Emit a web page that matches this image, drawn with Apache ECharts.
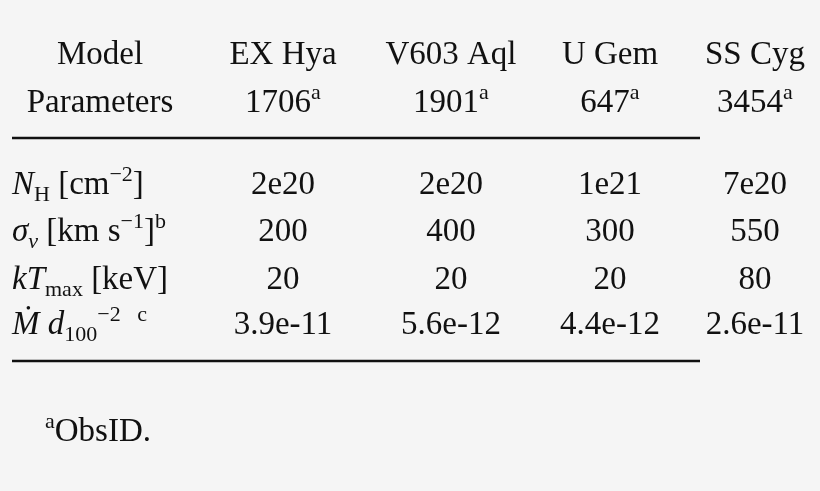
<!DOCTYPE html>
<html>
<head>
<meta charset="utf-8">
<script src="https://cdn.jsdelivr.net/npm/echarts@6/dist/echarts.min.js"></script>
<style>
  html, body { margin: 0; padding: 0; background: #f5f5f5; }
  #chart { width: 820px; height: 491px; }
</style>
</head>
<body>
<div id="chart"></div>
<script>
// table contents
const headerTop = ["Model", "EX Hya", "V603 Aql", "U Gem", "SS Cyg"];
const obsIds = ["1706", "1901", "647", "3454"];
const rowLabels = [
  "{it|N}{sub|H} [cm{sup|−2}]",
  "{it|σ}{subit|v} [km s{sup|−1}]{sup|b}",
  "{it|kT}{sub|max} [keV]",
  "{it|M\u0307 d}{sub|100}{sup|−2}  {sup|c}"
];
const nH = ["2e20", "2e20", "1e21", "7e20"];
const sigmaV = ["200", "400", "300", "550"];
const kTmax = ["20", "20", "20", "80"];
const mdot = ["3.9e-11", "5.6e-12", "4.4e-12", "2.6e-11"];
const footnote = "{sup|a}ObsID.";

const font = "'Liberation Serif', 'DejaVu Serif', serif";
const colX = [100, 283, 451, 610, 755];
const rowY = [185, 232, 280, 325];
const rich = {
  it: { fontFamily: font, fontSize: 33, fontStyle: 'italic', color: '#111' },
  sub: { fontFamily: font, fontSize: 22, color: '#111', verticalAlign: 'bottom', lineHeight: 42 },
  subit: { fontFamily: font, fontSize: 22, fontStyle: 'italic', color: '#111', verticalAlign: 'bottom', lineHeight: 42 },
  sup: { fontFamily: font, fontSize: 22, color: '#111', verticalAlign: 'top', lineHeight: 42 }
};

function txt(x, y, text, align) {
  return {
    type: 'text', x: x, y: y,
    style: {
      text: text, rich: rich, fill: '#111',
      font: "33px " + font,
      align: align || 'center', verticalAlign: 'middle', lineHeight: 42
    }
  };
}

const els = [];
headerTop.forEach((h, i) => els.push(txt(colX[i], 55, h)));
els.push(txt(colX[0], 103, "Parameters"));
obsIds.forEach((o, i) => els.push(txt(colX[i + 1], 103, o + "{sup|a}")));
[nH, sigmaV, kTmax, mdot].forEach((row, r) => {
  els.push(txt(12, rowY[r], rowLabels[r], 'left'));
  row.forEach((v, i) => els.push(txt(colX[i + 1], rowY[r], v)));
});
els.push(txt(45, 432, footnote, 'left'));
[138, 361].forEach(y => els.push({
  type: 'line', shape: { x1: 12, y1: y, x2: 700, y2: y },
  style: { stroke: '#111', lineWidth: 2.5 }
}));

const chart = echarts.init(document.getElementById('chart'));
chart.setOption({ backgroundColor: '#f5f5f5', graphic: els });
</script>
</body>
</html>
